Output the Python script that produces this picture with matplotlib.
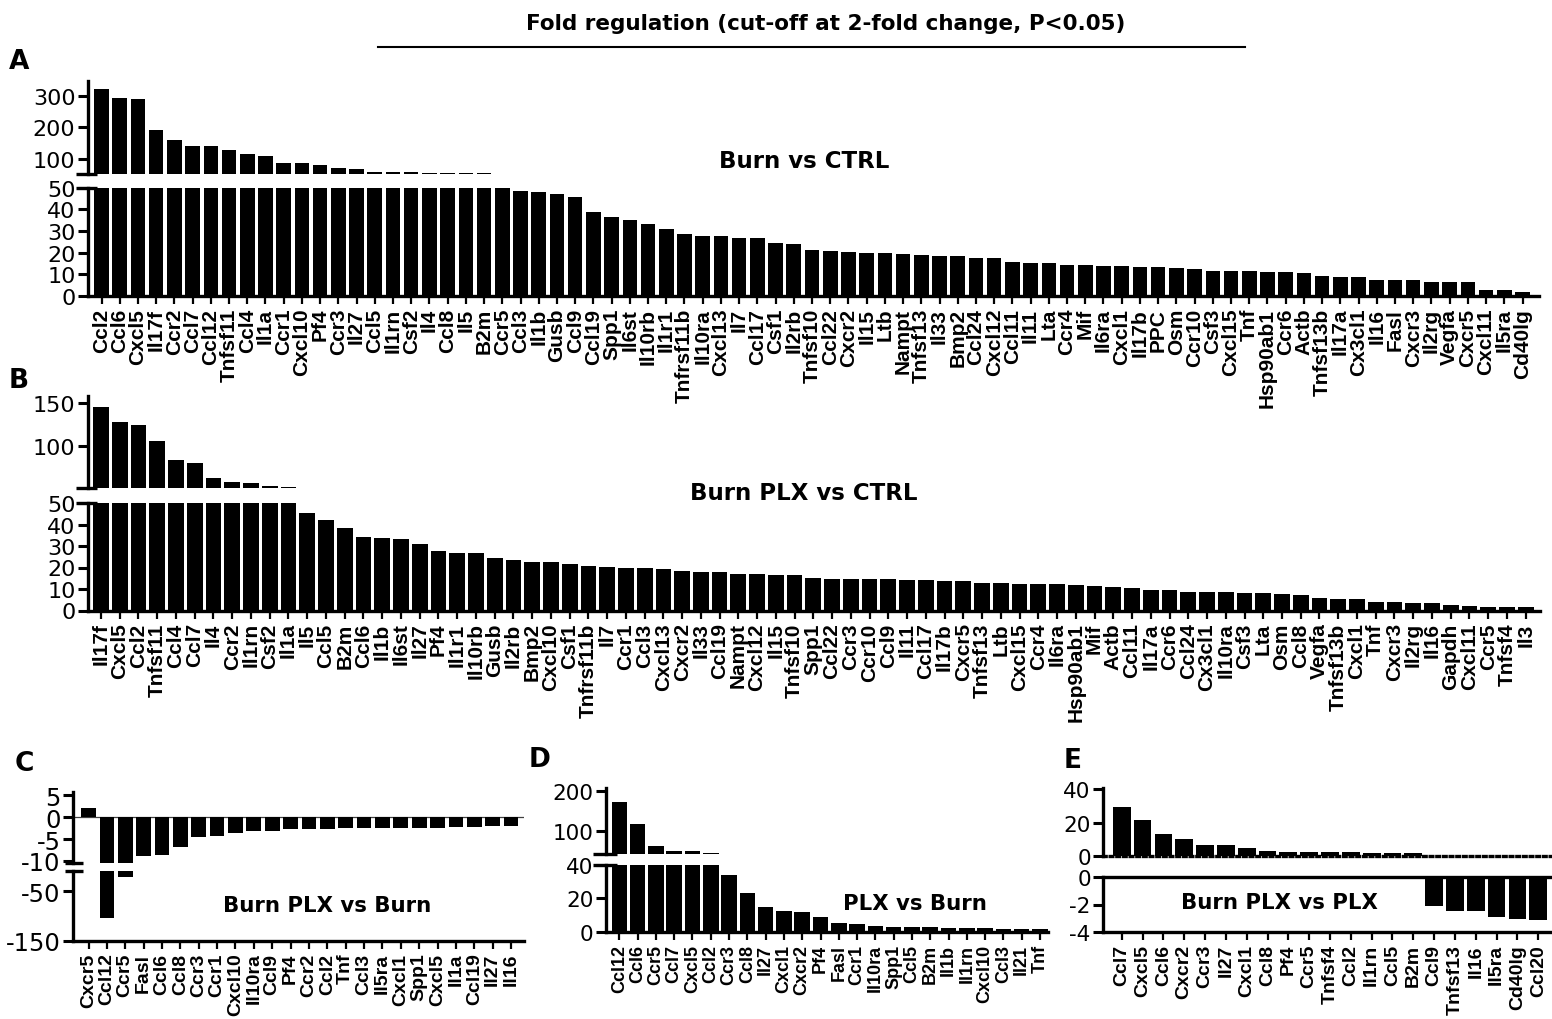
import matplotlib
matplotlib.use("Agg")
import matplotlib.pyplot as plt
from matplotlib.lines import Line2D

plt.rcParams['font.family'] = ['Liberation Sans', 'DejaVu Sans']

# ---------------- data ----------------
title = "Fold regulation (cut-off at 2-fold change, P<0.05)"

a_title = "Burn vs CTRL"
a_genes = ["Ccl2", "Ccl6", "Cxcl5", "Il17f", "Ccr2", "Ccl7", "Ccl12", "Tnfsf11", "Ccl4", "Il1a",
           "Ccr1", "Cxcl10", "Pf4", "Ccr3", "Il27", "Ccl5", "Il1rn", "Csf2", "Il4", "Ccl8",
           "Il5", "B2m", "Ccr5", "Ccl3", "Il1b", "Gusb", "Ccl9", "Ccl19", "Spp1", "Il6st",
           "Il10rb", "Il1r1", "Tnfrsf11b", "Il10ra", "Cxcl13", "Il7", "Ccl17", "Csf1", "Il2rb", "Tnfsf10",
           "Ccl22", "Cxcr2", "Il15", "Ltb", "Nampt", "Tnfsf13", "Il33", "Bmp2", "Ccl24", "Cxcl12",
           "Ccl11", "Il11", "Lta", "Ccr4", "Mif", "Il6ra", "Cxcl1", "Il17b", "PPC", "Osm",
           "Ccr10", "Csf3", "Cxcl15", "Tnf", "Hsp90ab1", "Ccr6", "Actb", "Tnfsf13b", "Il17a", "Cx3cl1",
           "Il16", "Fasl", "Cxcr3", "Il2rg", "Vegfa", "Cxcr5", "Cxcl11", "Il5ra", "Cd40lg"]
a_values = [322, 293, 290, 191, 159, 141, 141, 128, 117, 111,
            88, 87, 81, 72, 67, 60, 59, 59, 57, 57,
            55, 54.5, 54, 48.3, 48.0, 47.1, 45.6, 38.8, 36.4, 34.9,
            33.0, 30.9, 28.4, 27.8, 27.5, 26.8, 26.5, 24.3, 24.0, 21.4,
            20.8, 20.5, 20.0, 19.7, 19.4, 19.1, 18.5, 18.3, 17.6, 17.4,
            15.5, 15.1, 15.0, 14.5, 14.2, 13.9, 13.8, 13.5, 13.2, 12.8,
            12.5, 11.5, 11.3, 11.3, 11.0, 11.0, 10.4, 9.0, 8.9, 8.6,
            7.6, 7.6, 7.3, 6.6, 6.6, 6.5, 2.8, 2.6, 1.7]
a_ticks_upper = [100, 200, 300]
a_ticks_lower = [0, 10, 20, 30, 40, 50]

b_title = "Burn PLX vs CTRL"
b_genes = ["Il17f", "Cxcl5", "Ccl2", "Tnfsf11", "Ccl4", "Ccl7", "Il4", "Ccr2", "Il1rn", "Csf2",
           "Il1a", "Il5", "Ccl5", "B2m", "Ccl6", "Il1b", "Il6st", "Il27", "Pf4", "Il1r1",
           "Il10rb", "Gusb", "Il2rb", "Bmp2", "Cxcl10", "Csf1", "Tnfrsf11b", "Il7", "Ccr1", "Ccl3",
           "Cxcl13", "Cxcr2", "Il33", "Ccl19", "Nampt", "Cxcl12", "Il15", "Tnfsf10", "Spp1", "Ccl22",
           "Ccr3", "Ccr10", "Ccl9", "Il11", "Ccl17", "Il17b", "Cxcr5", "Tnfsf13", "Ltb", "Cxcl15",
           "Ccr4", "Il6ra", "Hsp90ab1", "Mif", "Actb", "Ccl11", "Il17a", "Ccr6", "Ccl24", "Cx3cl1",
           "Il10ra", "Csf3", "Lta", "Osm", "Ccl8", "Vegfa", "Tnfsf13b", "Cxcl1", "Tnf", "Cxcr3",
           "Il2rg", "Il16", "Gapdh", "Cxcl11", "Ccr5", "Tnfsf4", "Il3"]
b_values = [145.3, 128.1, 124.2, 105.9, 83.6, 79.7, 62.5, 57.8, 57.0, 53.5,
            51.8, 45.3, 42.1, 38.2, 34.3, 33.7, 33.1, 30.9, 27.6, 26.9,
            26.9, 24.4, 23.6, 22.7, 22.4, 21.8, 20.7, 20.4, 19.9, 19.6,
            19.4, 18.6, 18.0, 18.0, 17.2, 17.1, 16.6, 16.6, 15.2, 14.6,
            14.5, 14.5, 14.5, 14.3, 14.2, 13.8, 13.5, 12.8, 12.7, 12.4,
            12.3, 12.2, 11.8, 11.4, 10.9, 10.4, 9.6, 9.4, 8.7, 8.7,
            8.4, 8.1, 8.0, 7.6, 7.3, 5.8, 5.4, 5.4, 4.1, 3.8,
            3.6, 3.3, 2.5, 2.2, 1.6, 1.6, 1.6]
b_ticks_upper = [100, 150]
b_ticks_lower = [0, 10, 20, 30, 40, 50]

c_title = "Burn PLX vs Burn"
c_genes = ["Cxcr5", "Ccl12", "Ccr5", "Fasl", "Ccl6", "Ccl8", "Ccr3", "Ccr1", "Cxcl10", "Il10ra",
           "Ccl9", "Pf4", "Ccr2", "Ccl2", "Tnf", "Ccl3", "Il5ra", "Cxcl1", "Spp1", "Cxcl5",
           "Il1a", "Ccl19", "Il27", "Il16"]
c_values = [2.1, -103.8, -20.8, -8.9, -8.6, -6.9, -4.6, -4.2, -3.7, -3.1,
            -3.1, -2.8, -2.7, -2.6, -2.5, -2.5, -2.5, -2.5, -2.4, -2.4,
            -2.3, -2.2, -2.1, -2.0]
c_ticks_upper = [5, 0, -5, -10]
c_ticklabels_upper = ["5", "0", "-5", "-10"]
c_ticks_lower = [-50, -150]
c_ticklabels_lower = ["-50", "-150"]

d_title = "PLX vs Burn"
d_genes = ["Ccl12", "Ccl6", "Ccr5", "Ccl7", "Cxcl5", "Ccl2", "Ccr3", "Ccl8", "Il27", "Cxcl1",
           "Cxcr2", "Pf4", "Fasl", "Ccr1", "Il10ra", "Spp1", "Ccl5", "B2m", "Il1b", "Il1rn",
           "Cxcl10", "Ccl3", "Il21", "Tnf"]
d_values = [173, 117, 64, 52.5, 52.5, 46.7, 33.8, 23.1, 14.7, 12.5,
            11.5, 9.0, 5.4, 4.4, 3.4, 3.0, 2.8, 2.6, 2.2, 2.0,
            2.0, 1.8, 1.8, 1.4]
d_ticks_upper = [100, 200]
d_ticks_lower = [0, 20, 40]

e_title = "Burn PLX vs PLX"
e_genes = ["Ccl7", "Cxcl5", "Ccl6", "Cxcr2", "Ccr3", "Il27", "Cxcl1", "Ccl8", "Pf4", "Ccr5",
           "Tnfsf4", "Ccl2", "Il1rn", "Ccl5", "B2m", "Ccl9", "Tnfsf13", "Il16", "Il5ra", "Cd40lg",
           "Ccl20"]
e_values = [29.1, 21.6, 13.1, 10.5, 6.9, 6.7, 5.0, 3.2, 2.8, 2.4,
            2.4, 2.4, 2.0, 1.8, 1.8, -2.13, -2.49, -2.49, -2.92, -3.04,
            -3.11]
e_ticks_upper = [0, 20, 40]
e_ticks_lower = [0, -2, -4]
e_ticklabels_lower = ["0", "-2", "-4"]

# ---------------- layout helpers ----------------
W, H = 1552, 1020
LW = 2.4
fig = plt.figure(figsize=(W / 100, H / 100), dpi=100)


def px_axes(x0, y0, x1, y1):
    ax = fig.add_axes([x0 / W, 1 - y1 / H, (x1 - x0) / W, (y1 - y0) / H])
    ax.patch.set_alpha(0)
    for s in ax.spines.values():
        s.set_visible(False)
        s.set_linewidth(LW)
    ax.spines['left'].set_visible(True)
    ax.tick_params(axis='x', bottom=False, labelbottom=False)
    return ax


def yaxis(ax, ticks, labels, fs):
    ax.set_yticks(ticks)
    ax.set_yticklabels(labels, fontsize=fs, family='DejaVu Sans')
    ax.tick_params(axis='y', direction='out', length=7, width=2.2, pad=2)


def xaxis(ax, genes, fs):
    ax.spines['bottom'].set_visible(True)
    ax.set_xticks(range(len(genes)))
    ax.set_xticklabels(genes, rotation=90, fontsize=fs, fontweight='bold',
                       family='Liberation Sans')
    ax.tick_params(axis='x', bottom=True, labelbottom=True, direction='out',
                   length=5.5, width=1.6, pad=3)


def xlims(xl, xr, c0, c1, n):
    sp = (c1 - c0) / (n - 1)
    return ((xl - c0) / sp, (xr - c0) / sp)


def break_mark(ax, yfrac, axw, left=12, right=9):
    ax.add_line(Line2D([-left / axw, right / axw], [yfrac, yfrac], transform=ax.transAxes,
                       color='black', lw=LW, clip_on=False, solid_capstyle='butt'))


def bars(ax, values, width):
    ax.bar(range(len(values)), values, width=width, color='black', linewidth=0)


# ---------------- title ----------------
fig.text(826 / W, 1 - 24 / H, title, ha='center', va='center', fontsize=15.5,
         fontweight='bold', family='DejaVu Sans')
fig.add_artist(Line2D([378 / W, 1245 / W], [1 - 48 / H, 1 - 48 / H], color='black', lw=1.5))

for letter, (lx, ly) in zip("ABCDE", [(19, 62), (19, 381), (24, 764), (540, 760), (1073, 761)]):
    fig.text(lx / W, 1 - ly / H, letter, ha='center', va='center', fontsize=19,
             fontweight='bold', family='DejaVu Sans')

# ---------------- panel A ----------------
xl, xr = 88, 1539
lim = xlims(xl, xr, 101.5, 1522.5, len(a_genes))
axu = px_axes(xl, 82, xr, 175)
bars(axu, a_values, 0.8)
axu.set_xlim(lim); axu.set_ylim(52.8, 345.7)
yaxis(axu, a_ticks_upper, [str(t) for t in a_ticks_upper], 16)
break_mark(axu, 0, xr - xl)
axl = px_axes(xl, 188.5, xr, 297)
bars(axl, a_values, 0.8)
axl.set_xlim(lim); axl.set_ylim(0, 50)
yaxis(axl, a_ticks_lower, [str(t) for t in a_ticks_lower], 16)
xaxis(axl, a_genes, 15)
break_mark(axl, 1, xr - xl)
fig.text(804 / W, 1 - 161 / H, a_title, ha='center', va='center', fontsize=16.5,
         fontweight='bold', family='DejaVu Sans')

# ---------------- panel B ----------------
xl, xr = 88, 1540
lim = xlims(xl, xr, 101, 1525.7, len(b_genes))
axu = px_axes(xl, 397, xr, 489)
bars(axu, b_values, 0.84)
axu.set_xlim(lim); axu.set_ylim(51.2, 158)
yaxis(axu, b_ticks_upper, [str(t) for t in b_ticks_upper], 16)
break_mark(axu, 0, xr - xl)
axl = px_axes(xl, 504, xr, 611.5)
bars(axl, b_values, 0.84)
axl.set_xlim(lim); axl.set_ylim(0, 50)
yaxis(axl, b_ticks_lower, [str(t) for t in b_ticks_lower], 16)
xaxis(axl, b_genes, 15)
break_mark(axl, 1, xr - xl)
fig.text(804 / W, 1 - 493 / H, b_title, ha='center', va='center', fontsize=16.5,
         fontweight='bold', family='DejaVu Sans')

# ---------------- panel C ----------------
xl, xr = 73, 524
lim = xlims(xl, xr, 88.5, 511, len(c_genes))
axu = px_axes(xl, 793, xr, 864.4)
axu.axhline(0, color='0.25', lw=0.9, zorder=0)
bars(axu, c_values, 0.8)
axu.set_xlim(lim); axu.set_ylim(-10.6, 5.8)
yaxis(axu, c_ticks_upper, c_ticklabels_upper, 17.5)
break_mark(axu, 0, xr - xl, 8, 10)
axl = px_axes(xl, 872.4, xr, 941.7)
bars(axl, c_values, 0.8)
axl.set_xlim(lim); axl.set_ylim(-150, -9.5)
yaxis(axl, c_ticks_lower, c_ticklabels_lower, 17.5)
xaxis(axl, c_genes, 14)
break_mark(axl, 1, xr - xl, 8, 10)
fig.text(327 / W, 1 - 906 / H, c_title, ha='center', va='center', fontsize=15.3,
         fontweight='bold', family='DejaVu Sans')

# ---------------- panel D ----------------
xl, xr = 606, 1048
lim = xlims(xl, xr, 619.3, 1040, len(d_genes))
axu = px_axes(xl, 789, xr, 855)
bars(axu, d_values, 0.85)
axu.set_xlim(lim); axu.set_ylim(44.2, 206.6)
yaxis(axu, d_ticks_upper, [str(t) for t in d_ticks_upper], 15.5)
break_mark(axu, 0, xr - xl, 13, 11)
axl = px_axes(xl, 865.7, xr, 932.7)
bars(axl, d_values, 0.85)
axl.set_xlim(lim); axl.set_ylim(0, 40)
yaxis(axl, d_ticks_lower, [str(t) for t in d_ticks_lower], 15.5)
xaxis(axl, d_genes, 13)
break_mark(axl, 1, xr - xl, 13, 11)
fig.text(915 / W, 1 - 904 / H, d_title, ha='center', va='center', fontsize=15.3,
         fontweight='bold', family='DejaVu Sans')

# ---------------- panel E ----------------
xl, xr = 1103.3, 1552
lim = xlims(xl, xr, 1121.7, 1538.3, len(e_genes))
axu = px_axes(xl, 789, xr, 857.3)
bars(axu, e_values, 0.85)
axu.set_xlim(lim); axu.set_ylim(0, 40.6)
yaxis(axu, e_ticks_upper, [str(t) for t in e_ticks_upper], 15.5)
axu.spines['bottom'].set_visible(True)
axu.spines['bottom'].set_linestyle((0, (0.8, 1.2)))
axl = px_axes(xl, 877.7, xr, 933.3)
bars(axl, e_values, 0.85)
axl.set_xlim(lim); axl.set_ylim(-4, 0)
yaxis(axl, e_ticks_lower, e_ticklabels_lower, 15.5)
axl.spines['top'].set_visible(True)
xaxis(axl, e_genes, 14)
fig.text(1279 / W, 1 - 903 / H, e_title, ha='center', va='center', fontsize=15.3,
         fontweight='bold', family='DejaVu Sans')

fig.savefig("out.png", dpi=100)
